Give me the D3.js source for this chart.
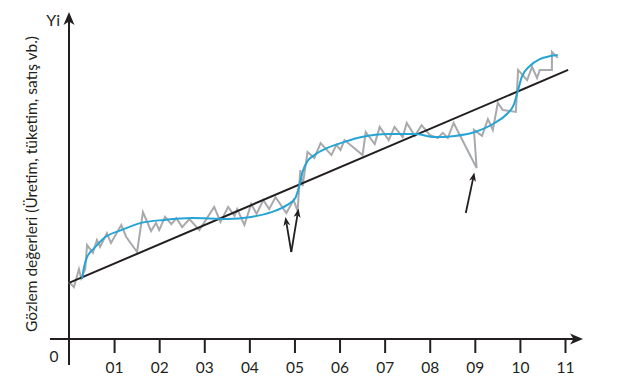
<!DOCTYPE html>
<html>
<head>
<meta charset="utf-8">
<script src="https://cdn.jsdelivr.net/npm/d3@7"></script>
<style>
  body { margin: 0; background: #fff; }
  text { font-family: "Gill Sans", Lato, "Open Sans", sans-serif; fill: #231f20; }
</style>
</head>
<body>
<svg id="chart"></svg>
<script>
"use strict";

var width = 619
  , height = 388;

// years on the x axis
var tickValues = [1, 2, 3, 4, 5, 6, 7, 8, 9, 10, 11];
var tickLabels = ["01", "02", "03", "04", "05", "06", "07", "08", "09", "10", "11"];

// observed values (grey zigzag)
var obsX = [0.0, 0.11, 0.22, 0.27, 0.36, 0.40, 0.53, 0.62, 0.69, 0.84, 0.93, 1.16, 1.27, 1.51, 1.64,
  1.82, 1.93, 2.00, 2.13, 2.27, 2.38, 2.51, 2.67, 2.89, 3.22, 3.36, 3.53, 3.67, 3.73, 3.89, 4.04,
  4.16, 4.31, 4.44, 4.58, 4.82, 4.98, 5.07, 5.13, 5.18, 5.29, 5.44, 5.58, 5.82, 5.93, 6.02, 6.11,
  6.51, 6.58, 6.78, 6.89, 7.09, 7.22, 7.40, 7.49, 7.67, 7.82, 8.00, 8.18, 8.29, 8.40, 8.53, 9.04,
  8.98, 9.16, 9.29, 9.40, 9.51, 9.62, 9.91, 9.96, 10.16, 10.27, 10.38, 10.44, 10.71, 10.71, 10.84];
var obsY = [19.0, 17.3, 23.3, 20.3, 23.3, 31.3, 28.7, 33.0, 30.7, 35.3, 32.0, 38.0, 34.0, 29.0, 42.3,
  36.0, 38.7, 36.3, 40.7, 38.3, 40.3, 37.3, 40.0, 36.3, 44.0, 39.0, 44.0, 41.0, 43.3, 38.0, 45.0,
  41.7, 46.3, 43.3, 47.3, 42.0, 46.3, 42.7, 56.3, 51.0, 62.3, 60.3, 65.3, 61.3, 64.7, 63.0, 66.3,
  61.3, 69.0, 65.0, 70.7, 66.3, 70.7, 67.3, 72.0, 67.7, 71.3, 68.0, 67.0, 68.7, 67.0, 72.0, 57.0,
  69.7, 67.7, 73.3, 69.7, 78.7, 76.3, 75.7, 89.7, 86.3, 90.7, 87.0, 89.7, 89.7, 95.7, 93.7];

// smoothed curve (blue)
var smoothX = [0.29, 0.33, 0.40, 0.56, 0.78, 1.16, 1.60, 2.11, 2.73, 3.51, 4.04, 4.49, 4.84, 5.02,
  5.11, 5.18, 5.29, 5.44, 5.73, 6.11, 6.49, 7.07, 7.67, 8.11, 8.56, 9.00, 9.44, 9.71, 9.87, 9.96,
  10.04, 10.22, 10.44, 10.67, 10.84];
var smoothY = [20.0, 23.7, 27.3, 30.3, 33.7, 36.3, 38.7, 39.7, 40.3, 40.0, 40.7, 42.3, 44.7, 47.0,
  51.3, 55.7, 59.3, 61.3, 63.7, 65.7, 67.3, 68.3, 68.3, 67.3, 67.7, 69.0, 72.0, 75.0, 78.3, 83.0,
  87.3, 91.0, 93.3, 94.3, 94.7];

// linear trend
var trendX = [0, 11.07];
var trendY = [18.7, 89.7];

// arrows pointing at outliers: [x1, y1, x2, y2] tail -> tip
var arrows = [[4.93, 29.0, 4.80, 40.7], [4.93, 29.0, 5.09, 43.5], [8.80, 42.0, 8.99, 55.5]];

var svg = d3.select("#chart")
  .attr("width", width)
  .attr("height", height);

var x = d3.scaleLinear().domain([0, 11]).range([69, 565]);
var y = d3.scaleLinear().domain([0, 100]).range([339, 39]);

var line = d3.line()
  .x(function (d) { return x(d[0]); })
  .y(function (d) { return y(d[1]); });

// axes
var xAxis = d3.axisBottom(x)
  .tickValues(tickValues)
  .tickSize(14)
  .tickPadding(9)
  .tickFormat(function (d, i) { return tickLabels[i]; });

var gx = svg.append("g")
  .attr("transform", "translate(0," + y(0) + ")")
  .call(xAxis);
gx.select(".domain").remove();
gx.selectAll(".tick line").attr("stroke", "#231f20").attr("stroke-width", 2);
gx.selectAll(".tick text")
  .style("font-size", "15.5px")
  .style("font-family", "\"Gill Sans\", Lato, sans-serif")
  .attr("fill", "#231f20");

svg.append("line")
  .attr("x1", 50).attr("x2", 577)
  .attr("y1", y(0)).attr("y2", y(0))
  .attr("stroke", "#231f20").attr("stroke-width", 2);
svg.append("path")
  .attr("d", "M583," + y(0) + "L570," + (y(0) - 5.5) + "L573.5," + y(0) + "L570," + (y(0) + 5.5) + "Z")
  .attr("fill", "#231f20");

svg.append("line")
  .attr("x1", x(0)).attr("x2", x(0))
  .attr("y1", 365).attr("y2", 20)
  .attr("stroke", "#231f20").attr("stroke-width", 2);
svg.append("path")
  .attr("d", "M" + x(0) + ",12L" + (x(0) - 5.5) + ",25L" + x(0) + ",21.5L" + (x(0) + 5.5) + ",25Z")
  .attr("fill", "#231f20");

svg.append("text")
  .attr("x", 54).attr("y", 362)
  .attr("text-anchor", "middle")
  .style("font-size", "15.5px")
  .text("0");

svg.append("text")
  .attr("x", 60).attr("y", 26)
  .attr("text-anchor", "end")
  .style("font-size", "16px")
  .text("Yi");

svg.append("text")
  .attr("transform", "translate(37," + 184 + ") rotate(-90)")
  .attr("text-anchor", "middle")
  .style("font-size", "15.5px")
  .text("Gözlem değerleri (Üretim, tüketim, satış vb.)");

// grey observations
svg.append("path")
  .datum(d3.zip(obsX, obsY))
  .attr("d", line)
  .attr("fill", "none")
  .attr("stroke", "#a7a9ac")
  .attr("stroke-width", 2)
  .attr("stroke-linejoin", "miter");

// trend line
svg.append("path")
  .datum(d3.zip(trendX, trendY))
  .attr("d", line)
  .attr("fill", "none")
  .attr("stroke", "#231f20")
  .attr("stroke-width", 2);

// blue smoothed curve
svg.append("path")
  .datum(d3.zip(smoothX, smoothY))
  .attr("d", line.curve(d3.curveMonotoneX))
  .attr("fill", "none")
  .attr("stroke", "#27a4d6")
  .attr("stroke-width", 2);

// annotation arrows
arrows.forEach(function (a) {
  var x1 = x(a[0]), y1 = y(a[1]), x2 = x(a[2]), y2 = y(a[3]);
  var ang = Math.atan2(y2 - y1, x2 - x1)
    , len = 9, half = 3.5;
  var bx = x2 - len * Math.cos(ang), by = y2 - len * Math.sin(ang);
  var px = -Math.sin(ang), py = Math.cos(ang);
  var nx = x2 - (len - 2.5) * Math.cos(ang), ny = y2 - (len - 2.5) * Math.sin(ang);
  svg.append("line")
    .attr("x1", x1).attr("y1", y1)
    .attr("x2", nx).attr("y2", ny)
    .attr("stroke", "#231f20").attr("stroke-width", 1.8);
  svg.append("path")
    .attr("d", "M" + x2 + "," + y2 +
      "L" + (bx + px * half) + "," + (by + py * half) +
      "L" + nx + "," + ny +
      "L" + (bx - px * half) + "," + (by - py * half) + "Z")
    .attr("fill", "#231f20");
});
</script>
</body>
</html>
